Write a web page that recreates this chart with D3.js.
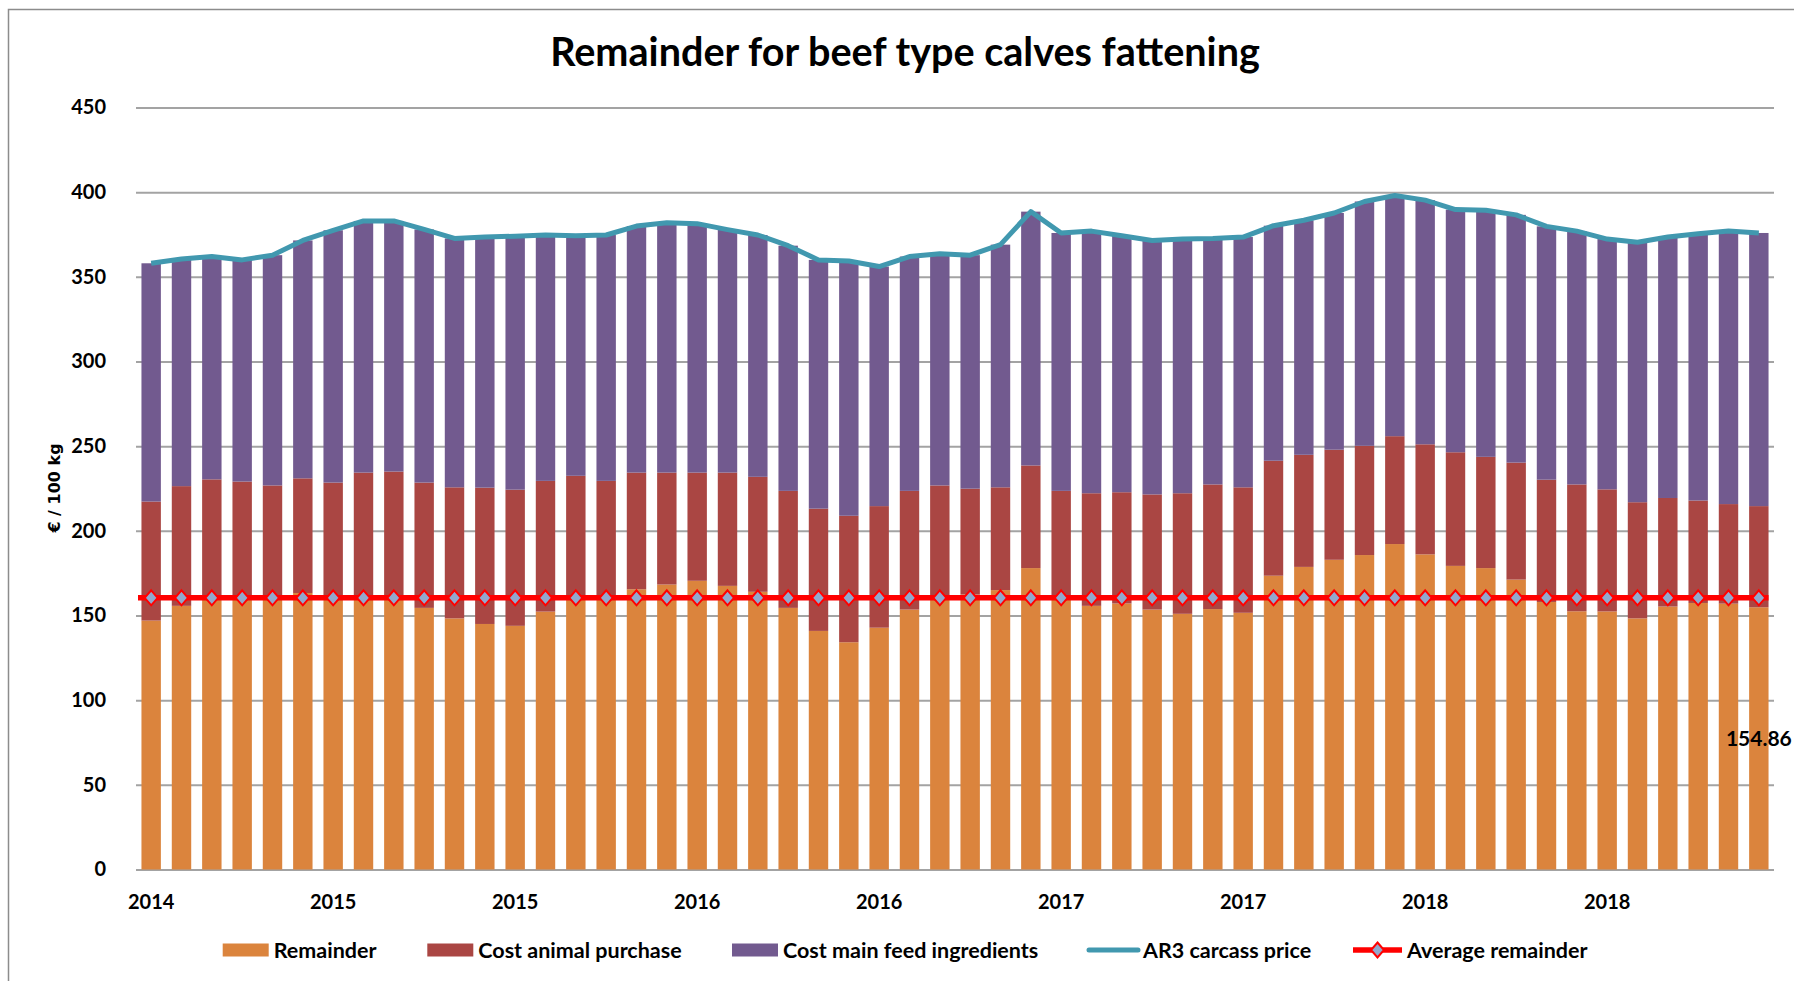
<!DOCTYPE html>
<html><head><meta charset="utf-8">
<script src="https://cdn.jsdelivr.net/npm/d3@7"></script>
<style>body{margin:0;background:#fff;} svg{display:block;}</style>
</head><body>
<svg id="chart" width="1794" height="981"></svg>
<script>
// ---- data ----
const months = ["2014-07","2014-08","2014-09","2014-10","2014-11","2014-12",
"2015-01","2015-02","2015-03","2015-04","2015-05","2015-06",
"2015-07","2015-08","2015-09","2015-10","2015-11","2015-12",
"2016-01","2016-02","2016-03","2016-04","2016-05","2016-06",
"2016-07","2016-08","2016-09","2016-10","2016-11","2016-12",
"2017-01","2017-02","2017-03","2017-04","2017-05","2017-06",
"2017-07","2017-08","2017-09","2017-10","2017-11","2017-12",
"2018-01","2018-02","2018-03","2018-04","2018-05","2018-06",
"2018-07","2018-08","2018-09","2018-10","2018-11","2018-12"];
const tickMonths = ["2014-07","2015-01","2015-07","2016-01","2016-07","2017-01","2017-07","2018-01","2018-07"];
const tickLabels = ["2014","2015","2015","2016","2016","2017","2017","2018","2018"];
const remainder = [147.0,155.7,159.5,160.0,160.0,163.3,160.0,160.5,160.5,154.5,
148.3,145.0,143.9,152.3,160.0,160.0,165.5,168.3,170.5,167.5,
164.0,154.5,140.9,134.2,142.8,153.5,160.0,162.4,165.0,178.0,
160.0,155.7,157.1,153.5,151.0,153.8,151.6,173.5,178.7,182.9,
185.7,192.2,186.1,179.3,178.0,171.2,158.0,152.5,152.4,148.3,
155.3,157.4,157.0,154.86];
const costAnimal = [70.3,70.7,70.9,69.1,66.8,67.7,68.5,73.9,74.5,74.0,
77.4,80.5,80.4,77.2,72.5,69.5,68.9,66.1,63.9,66.9,
67.9,69.1,72.2,74.7,71.8,70.1,66.8,62.5,60.7,60.6,
63.6,66.5,65.7,68.0,71.2,73.6,74.1,67.9,66.2,65.0,
64.5,63.7,65.0,67.1,65.7,69.1,72.2,74.9,72.1,68.6,
64.1,60.5,58.8,59.74];
const costFeed = [140.7,134.1,131.6,130.9,136.0,140.5,149.0,148.6,148.0,149.5,
147.0,148.0,149.7,145.2,141.8,145.2,145.6,147.6,147.0,143.5,
142.8,144.8,146.9,150.4,141.5,138.4,136.8,137.9,143.3,149.9,
152.3,154.8,151.5,150.0,150.1,145.3,147.8,138.8,138.5,139.8,
144.3,142.1,144.2,143.3,145.6,146.3,149.6,149.6,147.8,153.5,
154.1,157.6,161.2,161.3];
const carcassPrice = [358.0,360.5,362.0,360.0,362.8,371.5,377.5,383.0,383.0,378.0,
372.7,373.5,374.0,374.7,374.3,374.7,380.0,382.0,381.4,377.9,
374.7,368.4,360.0,359.3,356.1,362.0,363.6,362.8,369.0,388.5,
375.9,377.0,374.3,371.5,372.3,372.7,373.5,380.2,383.4,387.7,
394.5,398.0,395.3,389.7,389.3,386.6,379.8,377.0,372.3,370.4,
373.5,375.5,377.0,375.9];
const averageRemainder = 160.44;
const yTicks = [0,50,100,150,200,250,300,350,400,450];
const seriesNames = ["Remainder","Cost animal purchase","Cost main feed ingredients","AR3 carcass price","Average remainder"];
const titleText = "Remainder for beef type calves fattening";
const yTitle = "€ / 100 kg";

// ---- styles ----
const colors = {rem:"#DB843D", animal:"#AA4643", feed:"#725A8F", price:"#4198AF", avg:"#FF0000", marker:"#92A8CD"};
const FONT = "Lato, 'Open Sans', sans-serif";

const svg = d3.select("#chart");
const plot = {left:136, right:1774, top:107.5, bottom:869.5};

// outer border
svg.append("rect").attr("x",8.5).attr("y",9.5).attr("width",1800).attr("height",1000)
  .attr("fill","none").attr("stroke","#8c8c8c").attr("stroke-width",1.5);

const x = d3.scaleBand().domain(months).range([plot.left, plot.right]).paddingInner(0.36).paddingOuter(0.18);
const y = d3.scaleLinear().domain([0,450]).range([plot.bottom, plot.top]);

// gridlines + y labels
const yAxis = d3.axisLeft(y).tickValues(yTicks).tickSize(-(plot.right-plot.left)).tickPadding(30).tickFormat(d3.format("d"));
const gy = svg.append("g").attr("transform",`translate(${plot.left},0)`).call(yAxis);
gy.select(".domain").remove();
gy.selectAll(".tick line").attr("stroke","#a3a3a3").attr("stroke-width",2);
gy.selectAll(".tick text").attr("font-family",FONT).attr("font-weight","bold").attr("font-size",20).attr("fill","#000")
  .attr("x",-30);

// stacked bars
const table = months.map((m,i)=>({month:m, rem:remainder[i], animal:costAnimal[i], feed:costFeed[i]}));
const stack = d3.stack().keys(["rem","animal","feed"])(table);
const gBars = svg.append("g");
stack.forEach(layer=>{
  gBars.append("g").attr("fill",colors[layer.key]).selectAll("rect").data(layer).join("rect")
    .attr("x",d=>x(d.data.month)).attr("width",x.bandwidth())
    .attr("y",d=>y(d[1])).attr("height",d=>y(d[0])-y(d[1]));
});

// x axis labels
const xAxis = d3.axisBottom(x).tickValues(tickMonths).tickSize(0).tickPadding(0)
  .tickFormat(d=>tickLabels[tickMonths.indexOf(d)]);
const gx = svg.append("g").attr("transform",`translate(0,${plot.bottom})`).call(xAxis);
gx.select(".domain").remove();
gx.selectAll(".tick text").attr("font-family",FONT).attr("font-weight","bold").attr("font-size",20).attr("fill","#000")
  .attr("dy",0).attr("y",39);

// average remainder line with diamond markers
const cx = m => x(m) + x.bandwidth()/2;
svg.append("line").attr("x1",plot.left+2).attr("x2",x(months[months.length-1])+x.bandwidth())
  .attr("y1",y(averageRemainder)).attr("y2",y(averageRemainder))
  .attr("stroke",colors.avg).attr("stroke-width",5.5);
const diamond = "M0,-7.5L6.5,0L0,7.5L-6.5,0Z";
svg.append("g").selectAll("path").data(months).join("path")
  .attr("d",diamond).attr("transform",m=>`translate(${cx(m)},${y(averageRemainder)})`)
  .attr("fill",colors.marker).attr("stroke",colors.avg).attr("stroke-width",2);

// AR3 carcass price line
const line = d3.line().x((d,i)=>cx(months[i])).y(d=>y(d));
svg.append("path").datum(carcassPrice).attr("d",line).attr("fill","none")
  .attr("stroke",colors.price).attr("stroke-width",5).attr("stroke-linejoin","round");

// data label on last remainder bar
const lastM = months[months.length-1];
svg.append("text").attr("x",cx(lastM)).attr("y",y(remainder[remainder.length-1]/2)).attr("dy","0.35em")
  .attr("text-anchor","middle").attr("font-family",FONT).attr("font-weight","bold").attr("font-size",21)
  .attr("fill","#000").text(d3.format(".2f")(remainder[remainder.length-1]));

// title
const title = svg.append("text").attr("x",905).attr("y",66).attr("text-anchor","middle")
  .attr("font-family",FONT).attr("font-weight","bold").attr("font-size",35).attr("fill","#000").text(titleText);
const tl = title.node().getComputedTextLength();
title.attr("font-size", 35*710/tl);

// y axis title
svg.append("text").attr("transform","translate(54,488) rotate(-90)").attr("text-anchor","middle").attr("dy","0.35em")
  .attr("font-family","'DejaVu Sans', Verdana, sans-serif").attr("font-weight","bold").attr("font-size",16)
  .attr("fill","#000").text(yTitle);

// legend
const legX = [222.7, 427.3, 732, 1089, 1353];
const legY = 950;
const gl = svg.append("g");
seriesNames.forEach((name,i)=>{
  const g = gl.append("g").attr("transform",`translate(${legX[i]},${legY})`);
  if (i<3) {
    g.append("rect").attr("x",0).attr("y",-6.5).attr("width",46).attr("height",13)
      .attr("fill",[colors.rem,colors.animal,colors.feed][i]);
  } else if (i===3) {
    g.append("line").attr("x1",0).attr("x2",49).attr("y1",0).attr("y2",0)
      .attr("stroke",colors.price).attr("stroke-width",5).attr("stroke-linecap","round");
  } else {
    g.append("line").attr("x1",0).attr("x2",49).attr("y1",0).attr("y2",0)
      .attr("stroke",colors.avg).attr("stroke-width",5.5);
    g.append("path").attr("d",diamond).attr("transform","translate(24.5,0)")
      .attr("fill",colors.marker).attr("stroke",colors.avg).attr("stroke-width",2);
  }
  g.append("text").attr("x", i<3 ? 51 : 54).attr("y",0).attr("dy","0.36em")
    .attr("font-family",FONT).attr("font-weight","bold").attr("font-size",21.5).attr("fill","#000").text(name);
});
</script>
</body></html>
